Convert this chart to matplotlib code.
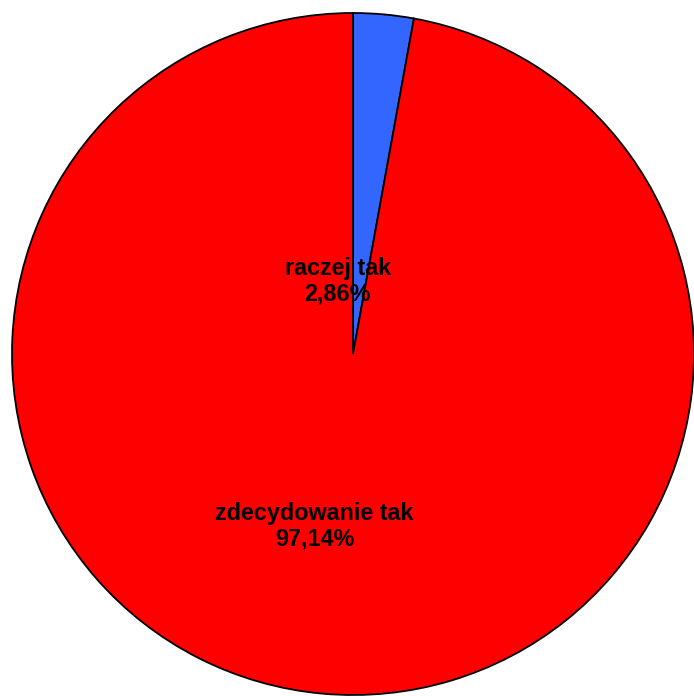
import matplotlib
matplotlib.use("Agg")
import matplotlib.pyplot as plt

# data
labels = ["raczej tak", "zdecydowanie tak"]
values = [2.86, 97.14]
value_labels = ["2,86%", "97,14%"]
colors = ["#3366FF", "#FF0000"]

# label positions in pixel space (x, y from bottom)
label_pos = [(338, 415), (314.5, 170)]

W, H = 694, 696
fig = plt.figure(figsize=(W / 100, H / 100), dpi=100)
ax = fig.add_axes([0, 0, 1, 1])

ax.pie(values, colors=colors, startangle=90, counterclock=False,
       center=(353, H - 354), radius=341, frame=True,
       wedgeprops=dict(edgecolor="black", linewidth=1.3))

for lab, val, (x, y) in zip(labels, value_labels, label_pos):
    ax.text(x, y, lab + "\n" + val, ha="center", va="center",
            fontsize=16.8, fontweight="bold", family="Liberation Sans",
            linespacing=1.12)

ax.set_xlim(0, W)
ax.set_ylim(0, H)
ax.axis("off")

fig.savefig("out.png", dpi=100, facecolor="white")
